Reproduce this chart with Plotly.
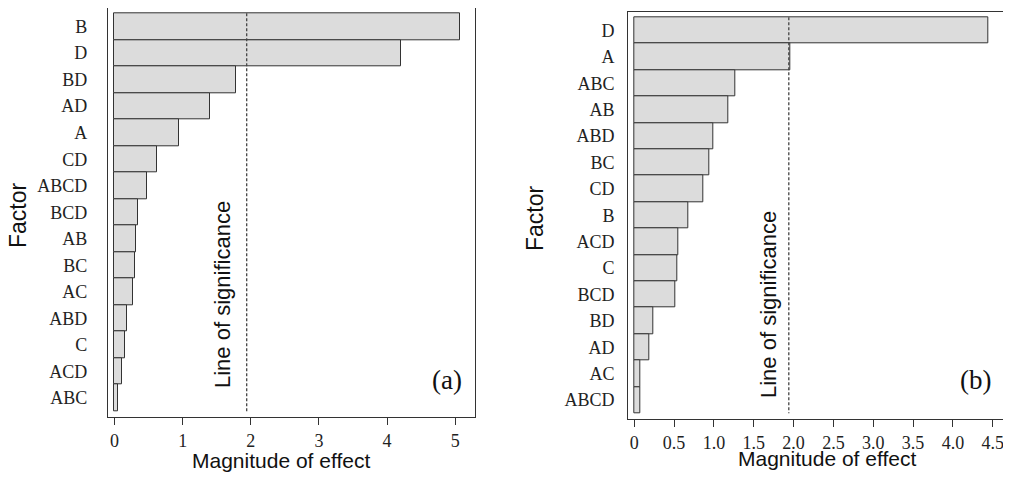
import plotly.graph_objects as go

# Panel (a)
factors_a = ["B", "D", "BD", "AD", "A", "CD", "ABCD", "BCD", "AB", "BC", "AC", "ABD", "C", "ACD", "ABC"]
effects_a = [5.07, 4.21, 1.78, 1.40, 0.95, 0.62, 0.48, 0.35, 0.31, 0.30, 0.27, 0.19, 0.15, 0.11, 0.05]
sig_a = 1.94
ticks_a = [0, 1, 2, 3, 4, 5]
ticklabels_a = ["0", "1", "2", "3", "4", "5"]

# Panel (b)
factors_b = ["D", "A", "ABC", "AB", "ABD", "BC", "CD", "B", "ACD", "C", "BCD", "BD", "AD", "AC", "ABCD"]
effects_b = [4.45, 1.96, 1.27, 1.18, 0.99, 0.94, 0.87, 0.68, 0.55, 0.535, 0.52, 0.24, 0.19, 0.075, 0.075]
sig_b = 1.94
ticks_b = [0, 0.5, 1.0, 1.5, 2.0, 2.5, 3.0, 3.5, 4.0, 4.5]
ticklabels_b = ["0", "0.5", "1.0", "1.5", "2.0", "2.5", "3.0", "3.5", "4.0", "4.5"]

OFF = 8  # page body margin
W, H = 1011 - OFF, 479 - OFF
SANS = "Liberation Sans, Arial, sans-serif"
SERIF = "Liberation Serif, Times New Roman, serif"
FILL = "#dcdcdc"
EDGE = "#333333"

fig = go.Figure()
fig.add_trace(go.Bar(x=effects_a, y=factors_a, orientation="h",
                     marker=dict(color=FILL, line=dict(color=EDGE, width=1)),
                     xaxis="x", yaxis="y", showlegend=False))
fig.add_trace(go.Bar(x=effects_b, y=factors_b, orientation="h",
                     marker=dict(color=FILL, line=dict(color=EDGE, width=1)),
                     xaxis="x2", yaxis="y2", showlegend=False))

def px_x(p):
    return min(1.0, max(0.0, (p - OFF) / W))

def px_y(p):
    return min(1.0, max(0.0, 1 - (p - OFF) / H))

common_x = dict(showline=True, mirror=True, linecolor=EDGE, linewidth=1.3,
                ticks="outside", ticklen=7, tickcolor=EDGE, tickwidth=1,
                showgrid=False, zeroline=False,
                tickfont=dict(family=SERIF, size=18, color="#222"))
common_y = dict(showline=True, mirror=True, linecolor=EDGE, linewidth=1.3,
                ticks="", showgrid=False, zeroline=False,
                tickfont=dict(family=SERIF, size=18, color="#222"))

fig.update_layout(
    width=W, height=H,
    margin=dict(l=0, r=0, t=0, b=0),
    paper_bgcolor="white", plot_bgcolor="white",
    bargap=0,
    xaxis=dict(domain=[px_x(108), px_x(475)], range=[-0.095, 5.29],
               tickvals=ticks_a, ticktext=ticklabels_a, anchor="y", **common_x),
    yaxis=dict(domain=[px_y(417), px_y(8.3)], range=[14.72, -0.69],
               categoryorder="array", categoryarray=factors_a,
               anchor="x", ticklabelstandoff=16, **common_y),
    xaxis2=dict(domain=[px_x(628.3), px_x(1003.3)], range=[-0.075, 4.633],
                tickvals=ticks_b, ticktext=ticklabels_b, anchor="y2", **common_x),
    yaxis2=dict(domain=[px_y(419.3), px_y(12.3)], range=[14.73, -0.69],
                categoryorder="array", categoryarray=factors_b,
                anchor="x2", ticklabelstandoff=9, **common_y),
)

# Significance lines
fig.add_shape(type="line", xref="x", yref="y", x0=sig_a, x1=sig_a, y0=-0.5, y1=14.5,
              line=dict(color="#444", width=1.3, dash="3px,2px"))
fig.add_shape(type="line", xref="x2", yref="y2", x0=sig_b, x1=sig_b, y0=-0.5, y1=14.5,
              line=dict(color="#444", width=1.3, dash="3px,2px"))

def text_ann(text, x, y, family, size, angle=0):
    return dict(text=text, xref="paper", yref="paper", x=px_x(x), y=px_y(y),
                xanchor="center", yanchor="middle", textangle=angle, showarrow=False,
                font=dict(family=family, size=size, color="#111"))

ann = [
    text_ann("Line of significance", 222, 295, SANS, 22, -90),
    text_ann("Line of significance", 768, 305, SANS, 22, -90),
    text_ann("(a)", 446.7, 380, SERIF, 27),
    text_ann("(b)", 975, 380, SERIF, 27),
    text_ann("Factor", 18, 215, SANS, 23, -90),
    text_ann("Factor", 535, 218, SANS, 23, -90),
    text_ann("Magnitude of effect", 281, 460, SANS, 21),
    text_ann("Magnitude of effect", 826.7, 458, SANS, 21),
]
fig.update_layout(annotations=ann)

fig.write_html("out.html")
